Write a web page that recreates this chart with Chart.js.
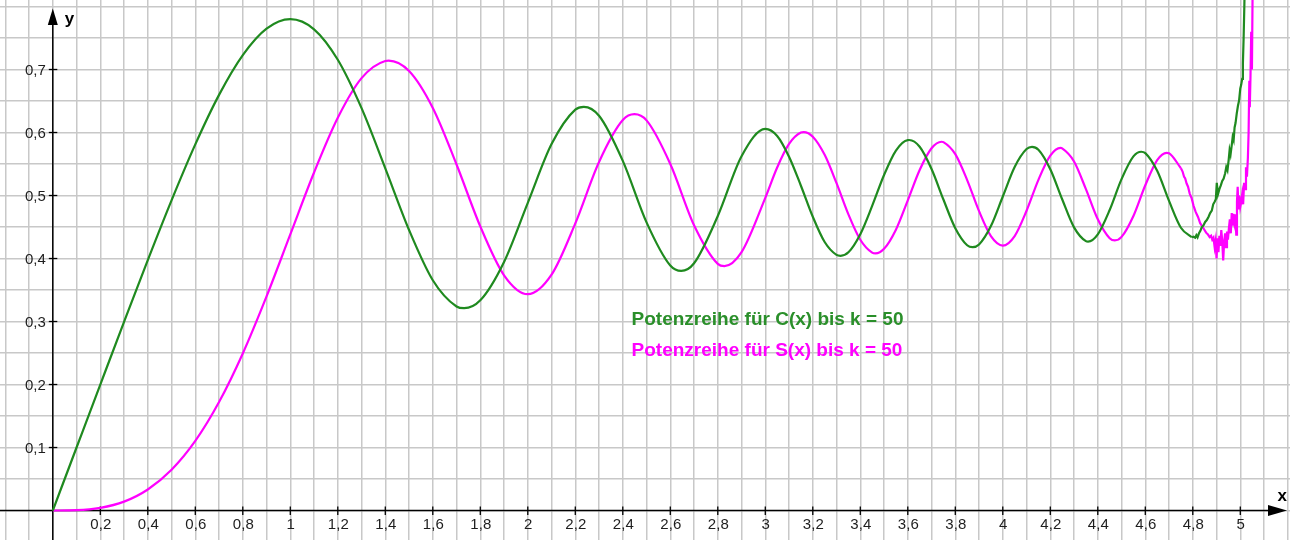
<!DOCTYPE html>
<html>
<head>
<meta charset="utf-8">
<script src="https://cdn.jsdelivr.net/npm/chart.js@4.4.1/dist/chart.umd.min.js"></script>
<style>
  html, body { margin: 0; padding: 0; background: #ffffff; overflow: hidden; }
  #wrap { width: 1290px; height: 540px; }
</style>
</head>
<body>
<div id="wrap"><canvas id="c" width="1290" height="540"></canvas></div>
<script>
// ---- data ----
const cX = [0,0.1,0.2,0.3,0.4,0.5,0.6,0.7,0.8,0.9,1.0,1.1,1.2,1.3,1.4,1.5,1.6,1.7,1.732,1.8,1.9,2.0,2.1,2.2,2.236,2.3,2.4,2.5,2.6,2.646,2.7,2.8,2.9,3.0,3.05,3.1,3.15,3.2,3.25,3.3,3.317,3.35,3.4,3.45,3.5,3.55,3.6,3.606,3.65,3.7,3.75,3.8,3.85,3.873,3.9,3.95,4.0,4.05,4.1,4.123,4.15,4.2,4.25,4.3,4.35,4.359,4.4,4.45,4.5,4.55,4.583,4.6,4.65,4.7,4.75,4.796];
const cY = [0,0.1000,0.1999,0.2994,0.3975,0.4923,0.5811,0.6597,0.7228,0.7648,0.7799,0.7638,0.7154,0.6386,0.5431,0.4453,0.3655,0.3238,0.3211,0.3336,0.3945,0.4883,0.5816,0.6363,0.6408,0.6266,0.5550,0.4574,0.3889,0.3803,0.3925,0.4675,0.5624,0.6057,0.5945,0.5616,0.5155,0.4663,0.4262,0.4057,0.4043,0.4098,0.4385,0.4835,0.5326,0.5714,0.5880,0.5881,0.5773,0.5420,0.4936,0.4481,0.4210,0.4179,0.4223,0.4515,0.4984,0.5452,0.5737,0.5772,0.5726,0.5417,0.4940,0.4494,0.4275,0.4268,0.4383,0.4770,0.5260,0.5620,0.5694,0.5672,0.5391,0.4914,0.4488,0.4337];

const cNoiseX = [4.796,4.803,4.81,4.815,4.82,4.826,4.832,4.838,4.845,4.852,4.859,4.866,4.873,4.88,4.886,4.892,4.897,4.901,4.906,4.912,4.918,4.924,4.930,4.936,4.941,4.946,4.951,4.955,4.959,4.964,4.968,4.972,4.976,4.980,4.985,4.990,4.995,5.000,5.004,5.008,5.011,5.014,5.017,5.020];
const cNoiseY = [0.4337,0.4345,0.4330,0.4370,0.4335,0.4400,0.4440,0.4500,0.4525,0.4580,0.4610,0.4660,0.4720,0.4760,0.4860,0.4900,0.4940,0.5200,0.5020,0.5100,0.5160,0.5230,0.5270,0.5350,0.5450,0.5400,0.5560,0.5720,0.5650,0.5800,0.5930,0.5880,0.6080,0.6150,0.6300,0.6420,0.6510,0.6700,0.6760,0.6850,0.7100,0.7500,0.8000,0.8600];

const sX = [0,0.1,0.2,0.3,0.4,0.5,0.6,0.7,0.8,0.9,1.0,1.1,1.2,1.3,1.4,1.414,1.5,1.6,1.7,1.8,1.9,2.0,2.1,2.2,2.3,2.4,2.449,2.5,2.6,2.7,2.8,2.828,2.9,3.0,3.05,3.1,3.15,3.162,3.2,3.25,3.3,3.35,3.4,3.45,3.464,3.5,3.55,3.6,3.65,3.7,3.742,3.75,3.8,3.85,3.9,3.95,4.0,4.05,4.1,4.15,4.2,4.243,4.25,4.3,4.35,4.4,4.45,4.472,4.5,4.55,4.6,4.65,4.69,4.7,4.75];
const sY = [0,0.0005,0.0042,0.0141,0.0334,0.0647,0.1105,0.1722,0.2493,0.3398,0.4383,0.5365,0.6234,0.6863,0.7135,0.7140,0.6975,0.6389,0.5492,0.4509,0.3734,0.3434,0.3743,0.4557,0.5532,0.6197,0.6290,0.6192,0.5500,0.4529,0.3915,0.3880,0.4101,0.4963,0.5445,0.5818,0.5999,0.6006,0.5933,0.5645,0.5195,0.4700,0.4297,0.4092,0.4080,0.4153,0.4457,0.4923,0.5405,0.5750,0.5853,0.5847,0.5656,0.5245,0.4752,0.4356,0.4205,0.4357,0.4758,0.5249,0.5632,0.5755,0.5747,0.5540,0.5101,0.4623,0.4323,0.4288,0.4343,0.4675,0.5162,0.5562,0.5678,0.5672,0.5433];

const sNoiseX = [4.75,4.757,4.763,4.768,4.774,4.780,4.787,4.795,4.803,4.812,4.822,4.831,4.840,4.848,4.856,4.864,4.871,4.877,4.882,4.887,4.892,4.896,4.900,4.904,4.908,4.912,4.916,4.920,4.924,4.928,4.932,4.936,4.940,4.944,4.948,4.952,4.956,4.960,4.964,4.968,4.971,4.975,4.979,4.983,4.986,4.989,4.992,4.996,5.000,5.004,5.008,5.012,5.016,5.020,5.024,5.028,5.032,5.035,5.038,5.040,5.043,5.046,5.049,5.052,5.055];
const sNoiseY = [0.5433,0.538,0.530,0.527,0.519,0.514,0.503,0.496,0.484,0.474,0.466,0.456,0.451,0.446,0.441,0.438,0.434,0.436,0.430,0.433,0.418,0.428,0.400,0.432,0.410,0.436,0.420,0.445,0.428,0.397,0.426,0.440,0.418,0.443,0.430,0.448,0.462,0.440,0.472,0.452,0.471,0.458,0.470,0.438,0.490,0.514,0.478,0.500,0.482,0.490,0.502,0.486,0.520,0.510,0.545,0.530,0.560,0.600,0.682,0.640,0.690,0.760,0.700,0.830,0.900];

const xTickValues = [0.2,0.4,0.6,0.8,1,1.2,1.4,1.6,1.8,2,2.2,2.4,2.6,2.8,3,3.2,3.4,3.6,3.8,4,4.2,4.4,4.6,4.8,5];
const xTickLabels = ['0,2','0,4','0,6','0,8','1','1,2','1,4','1,6','1,8','2','2,2','2,4','2,6','2,8','3','3,2','3,4','3,6','3,8','4','4,2','4,4','4,6','4,8','5'];
const yTickValues = [0.1,0.2,0.3,0.4,0.5,0.6,0.7];
const yTickLabels = ['0,1','0,2','0,3','0,4','0,5','0,6','0,7'];
const labelC = 'Potenzreihe für C(x) bis k = 50';
const labelS = 'Potenzreihe für S(x) bis k = 50';

// ---- styling ----
const GREEN = '#1f8a1f';
const MAGENTA = '#ff00ff';
const FONT = '"Liberation Sans", Arial, sans-serif';

function pts(xs, ys) { return xs.map((v, i) => ({ x: v, y: ys[i] })); }

function gridTicks(from, to, step) {
  const out = [];
  const n = Math.round((to - from) / step);
  for (let i = 0; i <= n; i++) out.push({ value: +(from + i * step).toFixed(4) });
  return out;
}

const axesPlugin = {
  id: 'geoAxes',
  beforeDatasetsDraw(chart) {
    const { ctx, chartArea, scales } = chart;
    const xs = scales.x, ys = scales.y;
    const x0 = xs.getPixelForValue(0);
    const y0 = ys.getPixelForValue(0);
    ctx.save();
    ctx.strokeStyle = '#000';
    ctx.fillStyle = '#000';
    ctx.lineWidth = 1.5;
    // x axis
    const xTip = chartArea.right - 3;
    ctx.beginPath();
    ctx.moveTo(chartArea.left, y0);
    ctx.lineTo(xTip - 6, y0);
    ctx.stroke();
    ctx.beginPath();
    ctx.moveTo(xTip, y0);
    ctx.lineTo(xTip - 19, y0 - 5.5);
    ctx.lineTo(xTip - 19, y0 + 5.5);
    ctx.closePath();
    ctx.fill();
    // y axis
    const yTip = chartArea.top + 8.5;
    ctx.beginPath();
    ctx.moveTo(x0, chartArea.bottom);
    ctx.lineTo(x0, yTip + 6);
    ctx.stroke();
    ctx.beginPath();
    ctx.moveTo(x0, yTip);
    ctx.lineTo(x0 - 5, yTip + 16.5);
    ctx.lineTo(x0 + 5, yTip + 16.5);
    ctx.closePath();
    ctx.fill();
    // ticks + labels
    ctx.lineWidth = 1.3;
    ctx.font = '15px ' + FONT;
    ctx.fillStyle = '#1e1e1e';
    ctx.textAlign = 'center';
    ctx.textBaseline = 'alphabetic';
    xTickValues.forEach((v, i) => {
      const px = xs.getPixelForValue(v);
      ctx.beginPath();
      ctx.moveTo(px, y0 - 4);
      ctx.lineTo(px, y0 + 4.5);
      ctx.stroke();
      ctx.fillText(xTickLabels[i], px + 0.5, y0 + 18.5);
    });
    ctx.textAlign = 'right';
    yTickValues.forEach((v, i) => {
      const py = ys.getPixelForValue(v);
      ctx.beginPath();
      ctx.moveTo(x0 - 4, py);
      ctx.lineTo(x0 + 4.5, py);
      ctx.stroke();
      ctx.fillText(yTickLabels[i], x0 - 7, py + 5.5);
    });
    // axis names
    ctx.fillStyle = '#000';
    ctx.font = 'bold 17px ' + FONT;
    ctx.textAlign = 'left';
    ctx.fillText('y', x0 + 12, chartArea.top + 23.5);
    ctx.textAlign = 'right';
    ctx.fillText('x', chartArea.right - 3, y0 - 10);
    ctx.restore();
  },
  afterDatasetsDraw(chart) {
    const { ctx, scales } = chart;
    const px = scales.x.getPixelForValue(2.437);
    ctx.save();
    ctx.font = 'bold 19px ' + FONT;
    ctx.textAlign = 'left';
    ctx.textBaseline = 'alphabetic';
    ctx.fillStyle = '#2a8f2a';
    ctx.fillText(labelC, px, scales.y.getPixelForValue(0.2952));
    ctx.fillStyle = MAGENTA;
    ctx.fillText(labelS, px, scales.y.getPixelForValue(0.2452));
    ctx.restore();
  }
};

const lineBase = { showLine: true, pointRadius: 0, pointHoverRadius: 0, borderWidth: 2.2, fill: false };

new Chart(document.getElementById('c'), {
  type: 'scatter',
  data: {
    datasets: [
      Object.assign({ label: labelC, data: pts(cX, cY), borderColor: GREEN, cubicInterpolationMode: 'monotone' }, lineBase),
      Object.assign({ label: labelC, data: pts(cNoiseX, cNoiseY), borderColor: GREEN, tension: 0 }, lineBase),
      Object.assign({ label: labelS, data: pts(sX, sY), borderColor: MAGENTA, cubicInterpolationMode: 'monotone' }, lineBase),
      Object.assign({ label: labelS, data: pts(sNoiseX, sNoiseY), borderColor: MAGENTA, tension: 0 }, lineBase)
    ]
  },
  options: {
    responsive: false,
    devicePixelRatio: 1,
    animation: false,
    layout: { padding: 0 },
    plugins: { legend: { display: false }, tooltip: { enabled: false } },
    events: [],
    scales: {
      x: {
        type: 'linear',
        min: -0.2223,
        max: 5.2093,
        afterBuildTicks: (s) => { s.ticks = gridTicks(-0.2, 5.2, 0.1); },
        ticks: { display: false },
        border: { display: false },
        grid: { color: '#c8c8c8', lineWidth: 1.5, drawTicks: false }
      },
      y: {
        type: 'linear',
        min: -0.0468,
        max: 0.8103,
        afterBuildTicks: (s) => { s.ticks = gridTicks(0, 0.8, 0.05); },
        ticks: { display: false },
        border: { display: false },
        grid: { color: '#c8c8c8', lineWidth: 1.5, drawTicks: false }
      }
    }
  },
  plugins: [axesPlugin]
});
</script>
</body>
</html>
